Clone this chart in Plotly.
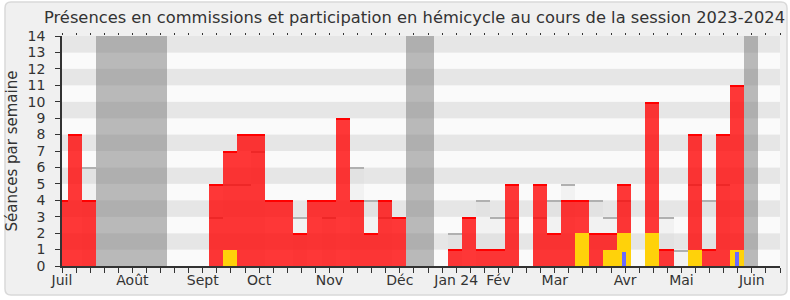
import plotly.graph_objects as go

# ---- data (week index: 0 = first full week of July 2023; bars centred on index) ----
semaines_presence = [-1, 0, 1, 10, 11, 12, 13, 14, 15, 16, 17, 18, 19, 20, 21, 22, 23,
                     27, 28, 29, 30, 31, 33, 34, 35, 36, 37, 38, 39, 41, 42, 44, 45, 46, 47]
presence_commission = [4, 8, 4, 5, 7, 8, 8, 4, 4, 2, 4, 4, 9, 4, 2, 4, 3,
                       1, 3, 1, 1, 5, 5, 2, 4, 4, 2, 2, 5, 10, 1, 8, 1, 8, 11]

semaines_hemicycle = [11, 36, 38, 39, 41, 44, 47]
participation_hemicycle = [1, 2, 1, 2, 2, 1, 1]

semaines_questions = [39, 47]
questions = [0.85, 0.85]

semaines_mediane = [1, 10, 11, 12, 13, 16, 18, 20, 21, 22, 27, 29, 30, 31, 33, 34, 35,
                    37, 38, 39, 42, 43, 44, 45, 46]
mediane = [6, 3, 5, 5, 7, 3, 3, 6, 4, 3, 2, 4, 3, 3, 3, 4, 5,
           4, 3, 4, 3, 1, 5, 4, 5]

semaines_vacances = [2, 3, 4, 5, 6, 24, 25, 48]
hauteur_vacances = 14

mois_labels = ["Juil", "Août", "Sept", "Oct", "Nov", "Déc", "Jan 24", "Fév",
               "Mar", "Avr", "Mai", "Juin"]
mois_ticks = [0, 5, 10, 14, 19, 24, 28, 31, 35, 40, 44, 49]

# ---- layout constants ----
X0 = -0.935
N_TICKS = 51
W, H = 790, 300
ML, MR, MT, MB = 62, 10, 36, 34
FONT = "DejaVu Sans"
TXT = "#333333"
PX_PER_UNIT = (H - MT - MB) / 14.0
EDGE_GRAY = 2 / PX_PER_UNIT
EDGE_RED = 1.4 / PX_PER_UNIT

tickvals = [X0 + n for n in range(N_TICKS + 1)]
ticktext = [""] * len(tickvals)
for lab, n in zip(mois_labels, mois_ticks):
    ticktext[n] = lab

fig = go.Figure()

# vacation bands
fig.add_trace(go.Bar(x=semaines_vacances, y=[hauteur_vacances] * len(semaines_vacances),
                     width=1, marker=dict(color="rgba(120,120,120,0.5)", line=dict(width=0)),
                     hoverinfo="skip", showlegend=False))
# median bars + their top edge
fig.add_trace(go.Bar(x=semaines_mediane, y=mediane, width=1,
                     marker=dict(color="rgba(215,215,215,0.22)", line=dict(width=0)),
                     showlegend=False))
fig.add_trace(go.Bar(x=semaines_mediane, y=[EDGE_GRAY] * len(mediane),
                     base=[m - EDGE_GRAY for m in mediane], width=1,
                     marker=dict(color="#b0b0b0", line=dict(width=0)),
                     showlegend=False, hoverinfo="skip"))
# commission presence + top edge
fig.add_trace(go.Bar(x=semaines_presence, y=presence_commission, width=1,
                     marker=dict(color="rgba(255,0,0,0.78)", line=dict(width=0)),
                     showlegend=False))
fig.add_trace(go.Bar(x=semaines_presence, y=[EDGE_RED] * len(presence_commission),
                     base=[p - EDGE_RED for p in presence_commission], width=1,
                     marker=dict(color="#ff0000", line=dict(width=0)),
                     showlegend=False, hoverinfo="skip"))
# hemicycle participation
fig.add_trace(go.Bar(x=semaines_hemicycle, y=participation_hemicycle, width=1,
                     marker=dict(color="rgb(255,210,10)", line=dict(width=0)),
                     showlegend=False))
# questions
fig.add_trace(go.Bar(x=semaines_questions, y=questions, width=0.3,
                     marker=dict(color="rgb(105,105,255)", line=dict(width=0)),
                     showlegend=False))
# dummy trace for top tick axis
fig.add_trace(go.Scatter(x=[0], y=[0], xaxis="x2", mode="markers",
                         marker=dict(opacity=0), showlegend=False, hoverinfo="skip"))

shapes = []
# outer rounded frame (paper coords)
pw, ph = W - ML - MR, H - MT - MB
def px(x): return (x - ML) / pw
def py(y): return (H - MB - y) / ph
x1, x2, y1, y2, r = 5, 787, 2, 295, 6
path = (f"M {px(x1 + r)} {py(y1)} L {px(x2 - r)} {py(y1)} "
        f"Q {px(x2)} {py(y1)} {px(x2)} {py(y1 + r)} L {px(x2)} {py(y2 - r)} "
        f"Q {px(x2)} {py(y2)} {px(x2 - r)} {py(y2)} L {px(x1 + r)} {py(y2)} "
        f"Q {px(x1)} {py(y2)} {px(x1)} {py(y2 - r)} L {px(x1)} {py(y1 + r)} "
        f"Q {px(x1)} {py(y1)} {px(x1 + r)} {py(y1)} Z")
shapes.append(dict(type="path", path=path, xref="paper", yref="paper",
                   fillcolor="#f0f0f0", line=dict(color="#d9d9d9", width=1.5),
                   layer="below"))
# horizontal stripes
for i in range(14):
    shapes.append(dict(type="rect", xref="x domain", yref="y", x0=0, x1=1, y0=i, y1=i + 1,
                       fillcolor="#e6e6e6" if i % 2 == 1 else "#fafafa",
                       line=dict(width=0), layer="below"))

fig.update_layout(
    width=W, height=H, margin=dict(l=ML, r=MR, t=MT, b=MB),
    paper_bgcolor="white", plot_bgcolor="#fafafa",
    barmode="overlay", bargap=0,
    font=dict(family=FONT, color=TXT, size=14),
    title=dict(text="Présences en commissions et participation en hémicycle au cours de la session 2023-2024",
               x=414.5 / W, xanchor="center", xref="container",
               y=1 - 17 / H, yanchor="middle", yref="container",
               font=dict(family=FONT, size=16.3, color=TXT)),
    shapes=shapes,
    xaxis=dict(range=[X0, X0 + N_TICKS], tickmode="array", tickvals=tickvals,
               ticktext=ticktext, ticks="outside", ticklen=5, tickcolor=TXT,
               showline=True, linecolor=TXT, linewidth=1.5, showgrid=False,
               zeroline=False, tickfont=dict(size=14, color=TXT),
               ticklabelstandoff=-5),
    xaxis2=dict(range=[X0, X0 + N_TICKS], overlaying="x", side="top", tickmode="array",
                tickvals=tickvals, ticktext=[""] * len(tickvals), ticks="outside",
                ticklen=2, tickcolor=TXT, showline=False, showgrid=False, zeroline=False),
    yaxis=dict(range=[0, 14], tickmode="linear", tick0=0, dtick=1, ticks="outside",
               ticklen=5, tickcolor=TXT, showline=True, linecolor=TXT, linewidth=1.5,
               showgrid=False, zeroline=False, tickfont=dict(size=14, color=TXT),
               ticklabelstandoff=7,
               title=dict(text="Séances par semaine", font=dict(size=15, color=TXT),
                          standoff=6)),
)

fig.write_html("out.html")
